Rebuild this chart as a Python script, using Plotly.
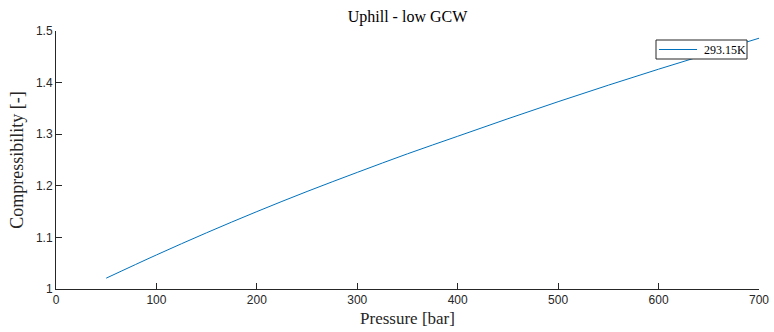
import plotly.graph_objects as go

# Compressibility factor at 293.15 K versus pressure
pressure_bar = [50, 100, 150, 200, 250, 300, 350, 400, 450, 500, 550, 600, 650, 700]
compressibility = [1.021, 1.066, 1.109, 1.150, 1.189, 1.226, 1.262, 1.296,
                   1.330, 1.363, 1.395, 1.426, 1.456, 1.486]
series_name = "293.15K"

x_ticks = [0, 100, 200, 300, 400, 500, 600, 700]
y_ticks = [1, 1.1, 1.2, 1.3, 1.4, 1.5]
y_tick_text = ["1", "1.1", "1.2", "1.3", "1.4", "1.5"]

line_color = "#0072BD"
axis_color = "#262626"
serif = "Liberation Serif"
sans = "Liberation Sans"

W, H = 774, 332
L, R, T, B = 56, 15, 31, 43
plot_w, plot_h = W - L - R, H - T - B


def px_x(p):
    """Pixel column -> paper x."""
    return (p - L) / plot_w


def px_y(p):
    """Pixel row -> paper y."""
    return (H - B - p) / plot_h


fig = go.Figure()
fig.add_trace(go.Scatter(
    x=pressure_bar, y=compressibility, mode="lines", name=series_name,
    line=dict(color=line_color, width=1, shape="spline"),
    showlegend=False,
))

# Boxed legend in the upper right corner, drawn over the curve
fig.add_shape(type="rect", xref="paper", yref="paper", layer="above",
              x0=px_x(656), x1=px_x(747), y0=px_y(59), y1=px_y(40),
              fillcolor="white", line=dict(color=axis_color, width=1))
fig.add_shape(type="line", xref="paper", yref="paper", layer="above",
              x0=px_x(659), x1=px_x(697), y0=px_y(49.5), y1=px_y(49.5),
              line=dict(color=line_color, width=1))
fig.add_annotation(xref="paper", yref="paper", x=px_x(702), y=px_y(49.5),
                   xanchor="left", yanchor="middle", showarrow=False,
                   text=series_name,
                   font=dict(family=serif, size=12, color="#000000"))

fig.update_layout(
    width=W, height=H,
    margin=dict(l=L, r=R, t=T, b=B, autoexpand=False),
    paper_bgcolor="white", plot_bgcolor="white",
    title=dict(text="Uphill - low GCW", x=(L + W - R) / 2 / W, xanchor="center",
               y=1 - 16 / H, yanchor="middle",
               font=dict(family=serif, size=16, color="#000000")),
    showlegend=False,
)

fig.update_xaxes(
    range=[0, 700], tickvals=x_ticks, ticks="inside", ticklen=6, tickwidth=1,
    tickcolor=axis_color, showline=True, linecolor=axis_color, linewidth=1,
    showgrid=False, zeroline=False, mirror=False, automargin=False,
    tickfont=dict(family=sans, size=12, color=axis_color),
    title=dict(text="Pressure [bar]", standoff=5,
               font=dict(family=serif, size=17, color=axis_color)),
)
fig.update_yaxes(
    range=[1, 1.5], tickvals=y_ticks, ticktext=y_tick_text, ticks="inside",
    ticklen=6, tickwidth=1, tickcolor=axis_color, showline=True,
    linecolor=axis_color, linewidth=1, showgrid=False, zeroline=False,
    automargin=False,
    tickfont=dict(family=sans, size=12, color=axis_color),
    title=dict(text="Compressibility [-]", standoff=7,
               font=dict(family=serif, size=18, color=axis_color)),
)

fig.write_html("out.html")
